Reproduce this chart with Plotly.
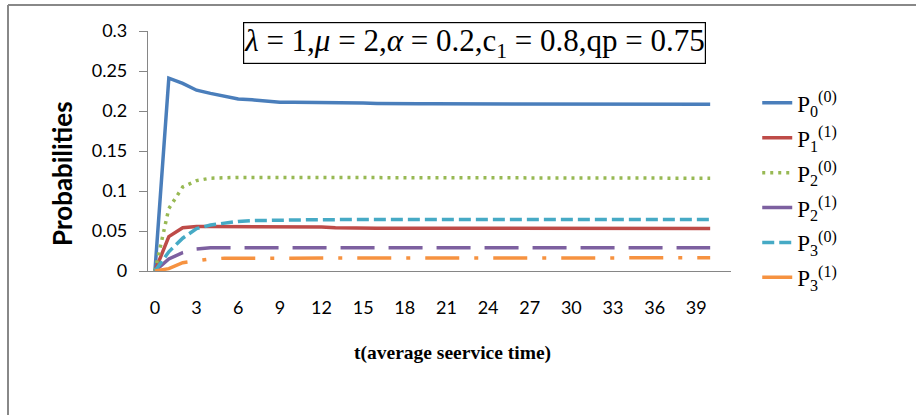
import plotly.graph_objects as go

t = list(range(0, 41))
p0_0 = [0, 0.241, 0.2345, 0.226, 0.222, 0.218, 0.215, 0.214, 0.212, 0.211, 0.211,
        0.211, 0.2105, 0.21, 0.21, 0.21, 0.2095, 0.209, 0.209, 0.209, 0.209,
        0.209, 0.209, 0.209, 0.209, 0.209, 0.209, 0.209, 0.209, 0.209, 0.209,
        0.2085, 0.2085, 0.2085, 0.2085, 0.2085, 0.2085, 0.2085, 0.2085, 0.2085, 0.2085]
p1_1 = [0, 0.043, 0.054, 0.0555, 0.0555, 0.0555, 0.0555, 0.055, 0.055, 0.055, 0.055,
        0.055, 0.055, 0.054, 0.0535, 0.0535, 0.0535, 0.0535, 0.0535, 0.0535, 0.0535,
        0.0535, 0.0535, 0.0535, 0.0535, 0.0535, 0.0535, 0.0535, 0.0535, 0.0535, 0.053,
        0.053, 0.053, 0.053, 0.053, 0.053, 0.053, 0.053, 0.053, 0.053, 0.053]
p2_0 = [0, 0.078, 0.105, 0.113, 0.116, 0.117, 0.117, 0.117, 0.117, 0.117, 0.117,
        0.117, 0.117, 0.117, 0.117, 0.117, 0.117, 0.117, 0.1165, 0.1165, 0.1165,
        0.1165, 0.1165, 0.1165, 0.1165, 0.1165, 0.1165, 0.1165, 0.1165, 0.1165, 0.116,
        0.116, 0.116, 0.116, 0.116, 0.116, 0.116, 0.116, 0.116, 0.116, 0.116]
p2_1 = [0, 0.015, 0.023, 0.0275, 0.029, 0.029, 0.029, 0.029, 0.029, 0.029, 0.029,
        0.029, 0.029, 0.029, 0.029, 0.029, 0.029, 0.029, 0.029, 0.029, 0.029,
        0.029, 0.029, 0.029, 0.029, 0.029, 0.029, 0.029, 0.029, 0.029, 0.029,
        0.029, 0.029, 0.029, 0.029, 0.029, 0.029, 0.029, 0.029, 0.029, 0.029]
p3_0 = [0, 0.024, 0.041, 0.053, 0.0575, 0.060, 0.062, 0.063, 0.0635, 0.064, 0.064,
        0.064, 0.064, 0.0645, 0.0645, 0.0645, 0.0645, 0.0645, 0.0645, 0.0645, 0.0645,
        0.0645, 0.0645, 0.0645, 0.0645, 0.0645, 0.0645, 0.0645, 0.0645, 0.0645, 0.0645,
        0.0645, 0.0645, 0.0645, 0.0645, 0.0645, 0.0645, 0.0645, 0.0645, 0.0645, 0.0645]
p3_1 = [0, 0.003, 0.0104, 0.013, 0.015, 0.016, 0.016, 0.016, 0.0165, 0.0165, 0.0165,
        0.0165, 0.0165, 0.0165, 0.0165, 0.0165, 0.0165, 0.0165, 0.0165, 0.0165, 0.0165,
        0.0165, 0.0165, 0.0165, 0.0165, 0.0165, 0.0165, 0.0165, 0.0165, 0.0165, 0.0165,
        0.0165, 0.0165, 0.0165, 0.0165, 0.0165, 0.0165, 0.0165, 0.0165, 0.0165, 0.0165]

x_ticks = list(range(0, 40, 3))
y_ticks = [0, 0.05, 0.1, 0.15, 0.2, 0.25, 0.3]

series = [
    ("P<sub>0</sub><sup>(0)</sup>", p0_0, "#4A7EBB", "solid"),
    ("P<sub>1</sub><sup>(1)</sup>", p1_1, "#BE4B48", "solid"),
    ("P<sub>2</sub><sup>(0)</sup>", p2_0, "#98B954", "3px,5px"),
    ("P<sub>2</sub><sup>(1)</sup>", p2_1, "#7D60A0", "34px,14px"),
    ("P<sub>3</sub><sup>(0)</sup>", p3_0, "#46AAC5", "12px,5px"),
    ("P<sub>3</sub><sup>(1)</sup>", p3_1, "#F69240", "34px,15px,4px,15px"),
]

fig = go.Figure()
for i, (name, vals, col, dash) in enumerate(series):
    fig.add_trace(go.Scatter(x=t, y=vals, mode="lines", name=name, legendgroup=f"g{i}",
                             line=dict(color=col, width=3.5, dash=dash)))

axis_font = dict(family="Lato", size=18, color="#000000")
fig.update_layout(
    width=916, height=415,
    margin=dict(l=148, r=185, t=31, b=144),
    plot_bgcolor="white", paper_bgcolor="white",
    showlegend=True,
    legend=dict(x=1.045, y=0.79, xanchor="left", yanchor="top",
                font=dict(family="Liberation Serif", size=23, color="#000000"),
                bgcolor="rgba(0,0,0,0)", tracegroupgap=2),
    xaxis=dict(range=[-0.5, 41.5], tickvals=x_ticks, showgrid=False, zeroline=False,
               showline=True, linecolor="#868686", linewidth=1.2, ticks="",
               ticklabelstandoff=20, tickfont=axis_font),
    yaxis=dict(range=[0, 0.3], tickvals=y_ticks, showgrid=False, zeroline=False,
               showline=True, linecolor="#868686", linewidth=1.2, ticks="outside",
               ticklen=8, tickcolor="#868686", ticklabelstandoff=8, tickfont=axis_font),
    annotations=[
        dict(text="<i>λ</i> = 1,<i>μ</i> = 2,<i>α</i> = 0.2,c<sub>1</sub> = 0.8,qp = 0.75",
             xref="paper", yref="paper", x=(474 - 148) / 583, y=(271 - 43) / 240,
             xanchor="center", yanchor="middle", showarrow=False,
             font=dict(family="Liberation Serif", size=31, color="#000000"),
             bordercolor="#000000", borderwidth=1.2, borderpad=0, bgcolor="white"),
        dict(text="<b>Probabilities</b>", xref="paper", yref="paper",
             x=(62 - 148) / 583, y=(271 - 174) / 240, textangle=-90,
             xanchor="center", yanchor="middle", showarrow=False,
             font=dict(family="Lato", size=26, color="#000000")),
        dict(text="<b>t(average seervice time)</b>", xref="paper", yref="paper",
             x=(452 - 148) / 583, y=(271 - 353) / 240,
             xanchor="center", yanchor="middle", showarrow=False,
             font=dict(family="Liberation Serif", size=19.5, color="#000000")),
    ],
    shapes=[
        dict(type="line", xref="paper", yref="paper",
             x0=(8 - 148) / 583, x1=(930 - 148) / 583,
             y0=(271 - 5) / 240, y1=(271 - 5) / 240,
             line=dict(color="#888888", width=2)),
        dict(type="line", xref="paper", yref="paper",
             x0=(8 - 148) / 583, x1=(8 - 148) / 583,
             y0=(271 - 5) / 240, y1=(271 - 430) / 240,
             line=dict(color="#888888", width=2)),
    ],
)

fig.write_html("out.html", config={"displayModeBar": False},
               post_script="document.body.style.margin='0';")
